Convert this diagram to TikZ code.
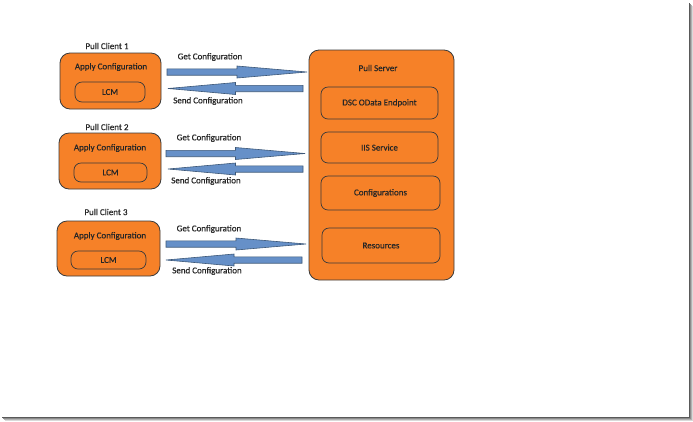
\documentclass[tikz,border=0pt]{standalone}
\usepackage{fontspec}
\setmainfont{Carlito}[FakeBold=0.35]
\usetikzlibrary{calc}
\definecolor{boxorange}{HTML}{F68128}
\definecolor{boxline}{HTML}{3A3A3A}
\definecolor{arrowfill}{HTML}{6690C8}
\definecolor{arrowline}{HTML}{3D5878}
\definecolor{txt}{HTML}{262626}
\tikzset{
  outerbox/.style={draw=boxline, fill=boxorange, line width=0.8bp, rounded corners=10bp, inner sep=0pt},
  innerbox/.style={draw=boxline, fill=boxorange, line width=0.7bp, rounded corners=7bp, inner sep=0pt},
  lbl/.style={inner sep=0pt, text=txt, font=\fontsize{9}{11}\selectfont},
  blockarrow/.style={fill=arrowfill, draw=arrowline, line width=0.6bp, line join=miter},
}
\newcommand{\blockarr}[2]{%
  \path[blockarrow]
    ($(#1)+(0,-3.2)$) -- ($(#1)!0.5!(#2)+(0,-3.2)$) -- ($(#1)!0.5!(#2)+(0,-6)$)
    -- (#2) -- ($(#1)!0.5!(#2)+(0,6)$) -- ($(#1)!0.5!(#2)+(0,3.2)$)
    -- ($(#1)+(0,3.2)$) -- cycle;}
\begin{document}
\begin{tikzpicture}[x=1bp,y=-1bp]
\useasboundingbox (0,0) rectangle (693,421);
\fill[white] (0,0) rectangle (693,421);
% frame shadow
\fill[black!65] (688.5,3) rectangle (690,418);
\fill[black!45] (690,4) rectangle (691,419);
\fill[black!30] (691,5) rectangle (692,420);
\fill[black!15] (692,6) rectangle (693,421);
\fill[black!65] (2,416.5) rectangle (690,418);
\fill[black!45] (3,418) rectangle (691,419);
\fill[black!30] (4,419) rectangle (692,420);
\fill[black!15] (5,420) rectangle (693,421);

% clients
\node[outerbox, minimum width=101bp, minimum height=56bp] (c1) at (110.5,81) {};
\node[outerbox, minimum width=102bp, minimum height=56bp] (c2) at (110,161) {};
\node[outerbox, minimum width=103bp, minimum height=55bp] (c3) at (108.5,248.5) {};
\node[lbl] (c1t) at (107,46) {Pull Client 1};
\node[lbl] (c2t) at (107,127) {Pull Client 2};
\node[lbl] (c3t) at (106,212) {Pull Client 3};
\node[lbl] (a1) at (111,67) {Apply Configuration};
\node[lbl] (a2) at (110,148) {Apply Configuration};
\node[lbl] (a3) at (110,236) {Apply Configuration};
\node[innerbox, minimum width=70bp, minimum height=20bp] (l1) at (110,92) {};
\node[innerbox, minimum width=73bp, minimum height=19bp] (l2) at (110.5,172.5) {};
\node[innerbox, minimum width=75bp, minimum height=18bp] (l3) at (108.5,260) {};
\node[lbl] at (l1) {LCM};
\node[lbl] at (l2) {LCM};
\node[lbl] at (l3) {LCM};

% server
\node[outerbox, minimum width=145bp, minimum height=230bp] (srv) at (381.5,165) {};
\node[lbl] (srvt) at (378,68) {Pull Server};
\node[innerbox, minimum width=117bp, minimum height=32bp] (dsc) at (379.5,103) {};
\node[innerbox, minimum width=117bp, minimum height=31bp] (iis) at (379.5,147.5) {};
\node[innerbox, minimum width=119bp, minimum height=34bp] (cfg) at (380.5,193) {};
\node[innerbox, minimum width=118bp, minimum height=35bp] (res) at (381,245.5) {};
\node[lbl] at (dsc) {DSC OData Endpoint};
\node[lbl] at (iis) {IIS Service};
\node[lbl] at (cfg) {Configurations};
\node[lbl] at (res) {Resources};

% arrow end points
\coordinate (g1t) at (167,72);   \coordinate (g1h) at (307,72);
\coordinate (s1t) at (303,88.5); \coordinate (s1h) at (168,88.5);
\coordinate (g2t) at (166,153.5);\coordinate (g2h) at (305,153.5);
\coordinate (s2t) at (303,169);  \coordinate (s2h) at (168,169);
\coordinate (g3t) at (166,244);  \coordinate (g3h) at (306,244);
\coordinate (s3t) at (302,260);  \coordinate (s3h) at (166,260);
\blockarr{g1t}{g1h}
\blockarr{s1t}{s1h}
\blockarr{g2t}{g2h}
\blockarr{s2t}{s2h}
\blockarr{g3t}{g3h}
\blockarr{s3t}{s3h}

\node[lbl] (gl1) at (210,57) {Get Configuration};
\node[lbl] (sl1) at (208,101) {Send Configuration};
\node[lbl] (gl2) at (209,138) {Get Configuration};
\node[lbl] (sl2) at (206,181) {Send Configuration};
\node[lbl] (gl3) at (209,229) {Get Configuration};
\node[lbl] (sl3) at (207,271) {Send Configuration};
\end{tikzpicture}
\end{document}
